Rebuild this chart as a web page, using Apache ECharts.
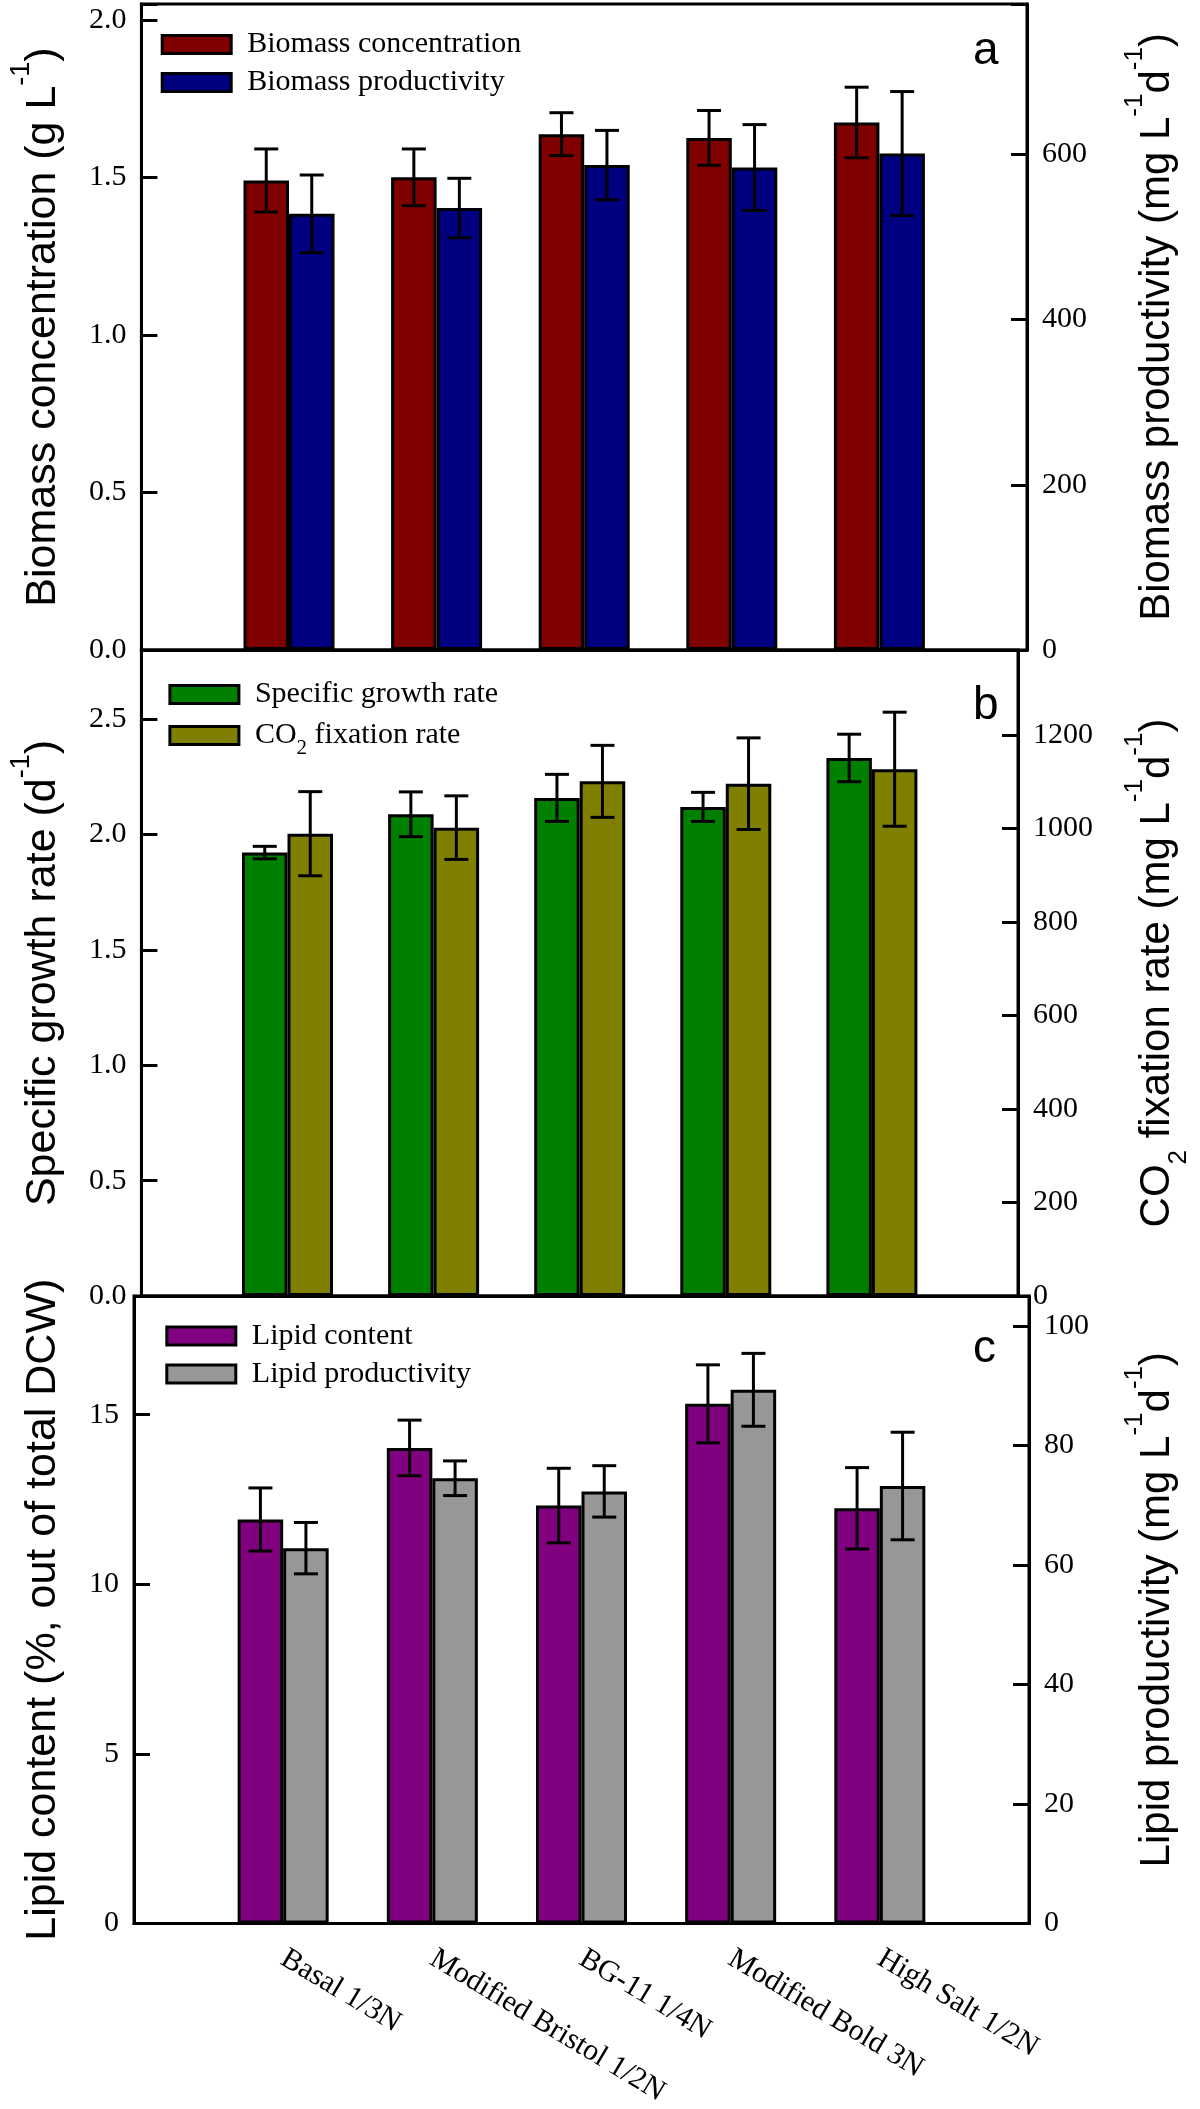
<!DOCTYPE html>
<html><head><meta charset="utf-8">
<script src="https://cdn.jsdelivr.net/npm/echarts@6/dist/echarts.min.js"></script>
<style>html,body{margin:0;padding:0;background:#fff}#c{width:1200px;height:2109px}</style>
</head><body><div id="c"></div><script>
// ---------- data ----------
const categories = ['Basal 1/3N', 'Modified Bristol 1/2N', 'BG-11 1/4N', 'Modified Bold 3N', 'High Salt 1/2N'];
const biomassConc = [1.49, 1.50, 1.637, 1.625, 1.674];
const biomassConcErr = [0.10, 0.09, 0.068, 0.087, 0.112];
const biomassProd = [528, 535, 587, 584, 601];
const biomassProdErr = [47, 36, 42, 52, 75];
const growthRate = [1.922, 2.088, 2.159, 2.12, 2.332];
const growthRateErr = [0.027, 0.097, 0.102, 0.063, 0.103];
const co2Fix = [989, 1002, 1101, 1096, 1127];
const co2FixErr = [90, 68, 77, 98, 122];
const lipidContent = [11.91, 14.02, 12.32, 15.32, 12.24];
const lipidContentErr = [0.93, 0.82, 1.1, 1.15, 1.2];
const lipidProd = [62.8, 74.5, 72.3, 89.3, 73.2];
const lipidProdErr = [4.3, 2.9, 4.3, 6.1, 9.0];
const leftTicksA = {max: 2.05, interval: 0.5, decimals: 1};
const rightTicksA = {max: 782, interval: 200, decimals: 0};
const leftTicksB = {max: 2.8, interval: 0.5, decimals: 1};
const rightTicksB = {max: 1382, interval: 200, decimals: 0};
const leftTicksC = {max: 18.5, interval: 5, decimals: 0};
const rightTicksC = {max: 105, interval: 20, decimals: 0};

// ---------- style ----------
const SERIF = '"Liberation Serif","Times New Roman",serif';
const SANS = '"Liberation Sans",Arial,sans-serif';
const BAR_W = 45.5;
const GRID_L = 134, GRID_R = 166.4, GRID_H = 646;

const panels = [
  {top: 4, lt: leftTicksA, rt: rightTicksA,
   leftName: 'Biomass concentration (g L{sup|-1})',
   rightName: 'Biomass productivity (mg L{sup|-1}d{sup|-1})',
   leftGap: 55, rightGap: 95,
   s: [{name: 'Biomass concentration', data: biomassConc, err: biomassConcErr, color: '#800000'},
       {name: 'Biomass productivity', data: biomassProd, err: biomassProdErr, color: '#000080'}],
   legend: {left: 160.7, top: 29.5, gap: 8}, letter: {text: 'a', y: 51.7}},
  {top: 650, lt: leftTicksB, rt: rightTicksB,
   leftName: 'Specific growth rate (d{sup|-1})',
   rightName: 'CO{sub|2} fixation rate (mg L{sup|-1}d{sup|-1})',
   leftGap: 59, rightGap: 104,
   s: [{name: 'Specific growth rate', data: growthRate, err: growthRateErr, color: '#008000'},
       {name: 'CO2 fixation rate', data: co2Fix, err: co2FixErr, color: '#808000'}],
   legend: {left: 168.4, top: 679.5, gap: 11}, letter: {text: 'b', y: 706}},
  {top: 1296, lt: leftTicksC, rt: rightTicksC,
   leftName: 'Lipid content (%, out of total DCW)',
   rightName: 'Lipid productivity (mg L{sup|-1}d{sup|-1})',
   leftGap: 48, rightGap: 93,
   s: [{name: 'Lipid content', data: lipidContent, err: lipidContentErr, color: '#800080'},
       {name: 'Lipid productivity', data: lipidProd, err: lipidProdErr, color: '#979797'}],
   legend: {left: 165.3, top: 1321, gap: 8}, letter: {text: 'c', y: 1349}}
];

function tickFmt(t) {
  return function (v) {
    const k = v / t.interval;
    if (Math.abs(k - Math.round(k)) > 1e-6) return '';
    return v.toFixed(t.decimals);
  };
}
function nameStyle(fs, supFs, supLh) {
  return {fontFamily: SANS, fontSize: fs, color: '#000', lineHeight: 70,
    rich: {
      sup: {fontSize: supFs, fontFamily: SANS, lineHeight: supLh, verticalAlign: 'top', color: '#000'},
      sub: {fontSize: supFs, fontFamily: SANS, lineHeight: 22, verticalAlign: 'bottom', color: '#000'}
    }};
}

const grid = [], xAxis = [], yAxis = [], series = [], legend = [], graphic = [];
panels.forEach((p, i) => {
  grid.push({left: GRID_L, right: GRID_R, top: p.top, height: GRID_H, show: true,
    borderColor: '#000', borderWidth: 3, backgroundColor: 'transparent'});
  xAxis.push({type: 'value', gridIndex: i, min: 0, max: 6, interval: 1,
    axisLine: {show: true, onZero: false, lineStyle: {color: '#000', width: 3}},
    axisTick: {show: false}, splitLine: {show: false},
    axisLabel: {show: i === 2, rotate: -31, margin: 33,
      fontFamily: SERIF, fontSize: 30, color: '#000',
      formatter: v => categories[v - 1] || ''}});
  const yBase = (t, pos, name, gap, ns) => ({type: 'value', gridIndex: i, position: pos, min: 0, max: t.max, interval: t.interval,
    axisLine: {show: true, lineStyle: {color: '#000', width: 3}},
    axisTick: {show: true, inside: true, length: 16, lineStyle: {color: '#000', width: 3}},
    splitLine: {show: false},
    axisLabel: {margin: 15, fontFamily: SERIF, fontSize: 30, color: '#000', formatter: tickFmt(t)},
    name: name, nameLocation: 'middle', nameRotate: 90, nameGap: gap, nameTextStyle: ns});
  yAxis.push(yBase(p.lt, 'left', p.leftName, p.leftGap, nameStyle(43, 27, 16)));
  yAxis.push(yBase(p.rt, 'right', p.rightName, p.rightGap, nameStyle(42, 26, 19)));
  p.s.forEach((s, k) => {
    const yIdx = i * 2 + k;
    series.push({type: 'bar', name: s.name, xAxisIndex: i, yAxisIndex: yIdx,
      barWidth: BAR_W, barGap: '0%',
      itemStyle: {color: s.color, borderColor: '#000', borderWidth: 3},
      data: s.data.map((v, j) => [j + 1, v]), silent: true, z: 2});
    const side = k === 0 ? -1 : 1;
    series.push({type: 'custom', xAxisIndex: i, yAxisIndex: yIdx, silent: true, z: 10,
      encode: {x: 0, y: 1},
      data: s.data.map((v, j) => [j + 1, v, s.err[j]]),
      renderItem: (params, api) => {
        const x = api.value(0), v = api.value(1), e = api.value(2);
        const t = api.coord([x, v + e]), b = api.coord([x, v - e]);
        const cx = t[0] + side * BAR_W / 2, hw = 12;
        const st = {stroke: '#000', lineWidth: 3};
        return {type: 'group', children: [
          {type: 'line', shape: {x1: cx, y1: t[1], x2: cx, y2: b[1]}, style: st},
          {type: 'line', shape: {x1: cx - hw, y1: t[1], x2: cx + hw, y2: t[1]}, style: st},
          {type: 'line', shape: {x1: cx - hw, y1: b[1], x2: cx + hw, y2: b[1]}, style: st}
        ]};
      }});
  });
  legend.push({orient: 'vertical', left: p.legend.left, top: p.legend.top, padding: 0,
    itemGap: p.legend.gap, itemWidth: 69, itemHeight: 18, icon: 'rect', selectedMode: false,
    data: p.s.map(s => s.name),
    itemStyle: {borderColor: '#000', borderWidth: 3},
    formatter: n => n.replace('CO2', 'CO{sub|2}'),
    textStyle: {fontFamily: SERIF, fontSize: 30, color: '#000', lineHeight: 30, padding: [0, 0, 0, 11],
      rich: {sub: {fontFamily: SERIF, fontSize: 21, lineHeight: 18, verticalAlign: 'bottom', padding: [0, 0, -8, 0], color: '#000'}}}});
  graphic.push({type: 'text', left: 973, top: p.letter.y - 23,
    style: {text: p.letter.text, font: '46px ' + SANS, fill: '#000'}});
});

const chart = echarts.init(document.getElementById('c'));
chart.setOption({animation: false, backgroundColor: '#fff', grid, xAxis, yAxis, series, legend, graphic});
</script></body></html>
